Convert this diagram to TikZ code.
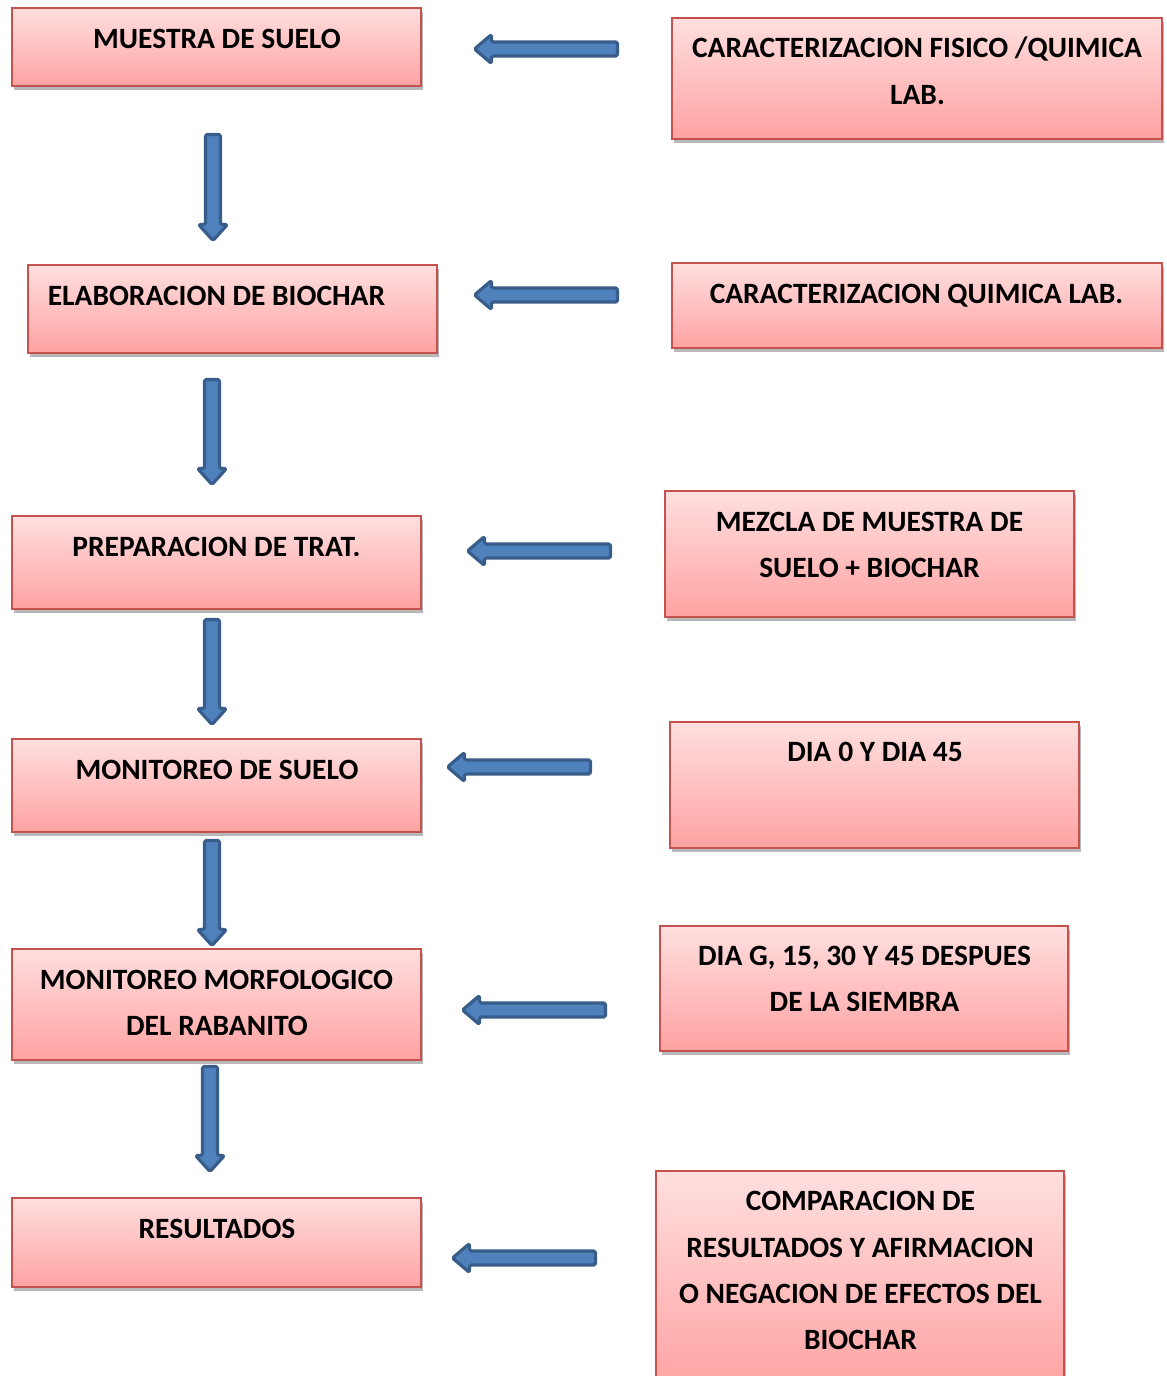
\documentclass[tikz,border=0pt]{standalone}
\usepackage{fontspec}
\setmainfont{Carlito}
\usetikzlibrary{calc,shadows}
\definecolor{pinktop}{RGB}{255,223,223}
\definecolor{pinkbot}{RGB}{255,162,162}
\definecolor{boxred}{RGB}{196,82,78}
\definecolor{arrfill}{RGB}{79,129,189}
\definecolor{arrline}{RGB}{56,93,138}
\newcommand\blkdown[2]{%
  \draw[barrow] ($(#1)+(-7.5,0)$) -- ($(#1)+(7.5,0)$) -- ($(#2)+(7.5,-16)$) -- ($(#2)+(14.5,-16)$) -- (#2) -- ($(#2)+(-14.5,-16)$) -- ($(#2)+(-7.5,-16)$) -- cycle;}
\newcommand\blkleft[2]{%
  \draw[barrow] ($(#1)+(0,-7)$) -- ($(#1)+(0,7)$) -- ($(#2)+(17,7)$) -- ($(#2)+(17,14.5)$) -- (#2) -- ($(#2)+(17,-14.5)$) -- ($(#2)+(17,-7)$) -- cycle;}
\begin{document}
\begin{tikzpicture}[x=0.5pt,y=-0.5pt,
  boxnode/.style={rectangle, draw=boxred, line width=1pt, top color=pinktop, bottom color=pinkbot,
    inner sep=0pt, drop shadow={shadow xshift=1pt, shadow yshift=-1.8pt, fill=black, opacity=0.28}},
  txt/.style={anchor=base, inner sep=0pt, font=\fontsize{14.74pt}{17pt}\selectfont\bfseries},
  barrow/.style={fill=arrfill, draw=arrline, line width=1.6pt, line join=round, rounded corners=0.8pt}]
\useasboundingbox (0,0) rectangle (1167,1376);
\clip (0,0) rectangle (1167,1376);

% left column boxes
\node[boxnode, minimum width=204.5pt, minimum height=39pt] (L1) at (216.5,47) {};
\node[boxnode, minimum width=204.5pt, minimum height=44pt] (L2) at (232.5,309) {};
\node[boxnode, minimum width=204.5pt, minimum height=46.5pt] (L3) at (216.5,562.5) {};
\node[boxnode, minimum width=204.5pt, minimum height=46.5pt] (L4) at (216.5,785.5) {};
\node[boxnode, minimum width=204.5pt, minimum height=55.5pt] (L5) at (216.5,1004.5) {};
\node[boxnode, minimum width=204.5pt, minimum height=44.5pt] (L6) at (216.5,1242.5) {};

% right column boxes
\node[boxnode, minimum width=245pt, minimum height=60.5pt] (R1) at (917,78.5) {};
\node[boxnode, minimum width=245pt, minimum height=42.5pt] (R2) at (917,305.5) {};
\node[boxnode, minimum width=204.5pt, minimum height=63pt] (R3) at (869.5,554) {};
\node[boxnode, minimum width=204.5pt, minimum height=63pt] (R4) at (874.5,785) {};
\node[boxnode, minimum width=204pt, minimum height=62.5pt] (R5) at (864,988.5) {};
\node[boxnode, minimum width=204pt, minimum height=109.5pt] (R6) at (860,1280.5) {};

% texts
\node[txt] (tL1) at (217,48.5) {MUESTRA DE SUELO};
\node[txt] (tL2) at (216.5,305.5) {ELABORACION DE BIOCHAR};
\node[txt] (tL3) at (216.5,556.5) {PREPARACION DE TRAT.};
\node[txt] (tL4) at (217,779.5) {MONITOREO DE SUELO};
\node[txt] (tL5a) at (216.5,989.5) {MONITOREO MORFOLOGICO};
\node[txt] (tL5b) at (217,1035.5) {DEL RABANITO};
\node[txt] (tL6) at (217,1238.5) {RESULTADOS};

\node[txt] (tR1a) at (917,57.5) {CARACTERIZACION FISICO /QUIMICA};
\node[txt] (tR1b) at (917.5,104.5) {LAB.};
\node[txt] (tR2) at (916.5,303.5) {CARACTERIZACION QUIMICA LAB.};
\node[txt] (tR3a) at (869.5,531.5) {MEZCLA DE MUESTRA DE};
\node[txt] (tR3b) at (869.5,577.5) {SUELO + BIOCHAR};
\node[txt] (tR4) at (875,761.5) {DIA 0 Y DIA 45};
\node[txt] (tR5a) at (864.5,965.5) {DIA G, 15, 30 Y 45 DESPUES};
\node[txt] (tR5b) at (864.5,1011.5) {DE LA SIEMBRA};
\node[txt] (tR6a) at (860.5,1210.5) {COMPARACION DE};
\node[txt] (tR6b) at (860,1257.5) {RESULTADOS Y AFIRMACION};
\node[txt] (tR6c) at (860.5,1303.5) {O NEGACION DE EFECTOS DEL};
\node[txt] (tR6d) at (860.5,1349.5) {BIOCHAR};

% arrow end points
\coordinate (v1s) at (213,134.5);  \coordinate (v1e) at (213,240.5);
\coordinate (v2s) at (212,379.5);  \coordinate (v2e) at (212,484.5);
\coordinate (v3s) at (212,619.5);  \coordinate (v3e) at (212,724.5);
\coordinate (v4s) at (212,840.5);  \coordinate (v4e) at (212,945.5);
\coordinate (v5s) at (210,1066.5); \coordinate (v5e) at (210,1171.5);

\coordinate (h1s) at (617.5,49);   \coordinate (h1e) at (474.5,49);
\coordinate (h2s) at (617.5,295);  \coordinate (h2e) at (474.5,295);
\coordinate (h3s) at (610.5,551);  \coordinate (h3e) at (467.5,551);
\coordinate (h4s) at (590.5,767);  \coordinate (h4e) at (447.5,767);
\coordinate (h5s) at (605.5,1010); \coordinate (h5e) at (462.5,1010);
\coordinate (h6s) at (595.5,1258); \coordinate (h6e) at (452.5,1258);

\blkdown{v1s}{v1e}
\blkdown{v2s}{v2e}
\blkdown{v3s}{v3e}
\blkdown{v4s}{v4e}
\blkdown{v5s}{v5e}

\blkleft{h1s}{h1e}
\blkleft{h2s}{h2e}
\blkleft{h3s}{h3e}
\blkleft{h4s}{h4e}
\blkleft{h5s}{h5e}
\blkleft{h6s}{h6e}
\end{tikzpicture}
\end{document}
